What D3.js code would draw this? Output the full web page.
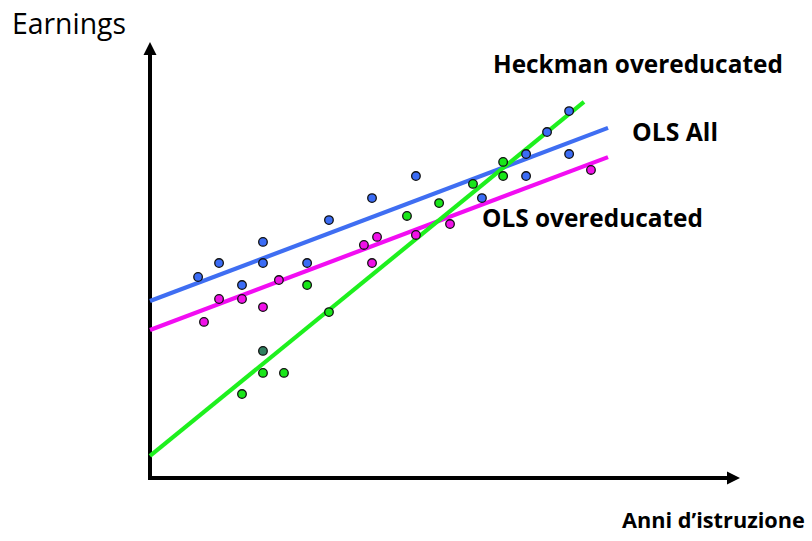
<!DOCTYPE html>
<html>
<head>
<meta charset="utf-8">
<script src="https://cdn.jsdelivr.net/npm/d3@7"></script>
<style>
  html, body { margin: 0; padding: 0; background: #fff; }
  svg { display: block; }
  text { font-family: "Open Sans", "Liberation Sans", sans-serif; fill: #000; }
</style>
</head>
<body>
<svg id="chart" width="812" height="541"></svg>
<script>
// ---- Data (years of schooling vs earnings, arbitrary units) ----
const blueX = [2.2, 3.16, 4.21, 5.17, 5.17, 7.19, 8.19, 10.16, 12.17, 15.19, 17.21, 17.21, 18.17, 19.18, 19.18];
const blueY = [9.22, 9.86, 8.85, 10.83, 9.86, 9.86, 11.83, 12.84, 13.85, 12.84, 13.85, 14.86, 15.87, 16.83, 14.86];

const magentaX = [2.47, 3.16, 4.21, 5.17, 5.9, 9.79, 10.16, 10.39, 12.17, 13.73, 20.18];
const magentaY = [7.16, 8.21, 8.21, 7.84, 9.08, 10.69, 9.86, 11.06, 11.15, 11.65, 14.13];

const greenX = [4.21, 5.17, 6.13, 7.19, 8.19, 11.76, 13.23, 14.78, 16.16, 16.16];
const greenY = [3.85, 4.82, 4.82, 8.85, 7.61, 12.02, 12.61, 13.49, 14.5, 13.85];

const darkGreenX = [5.17];
const darkGreenY = [5.83];

// fitted lines: [x0, y0, x1, y1]
const lineOLSAll = [0, 8.12, 20.96, 16.06];
const lineOLSOver = [0, 6.79, 20.96, 14.72];
const lineHeckman = [0, 1.01, 19.86, 17.25];

const lineLabels = ["Heckman overeducated", "OLS All", "OLS overeducated"];
const yTitle = "Earnings";
const xTitle = "Anni d\u2019istruzione";

// ---- Scales ----
const svg = d3.select("#chart");
const x = d3.scaleLinear().domain([0, 27]).range([150, 740]);
const y = d3.scaleLinear().domain([0, 20]).range([478, 42]);

// ---- Axes (no ticks) ----
const gx = svg.append("g").attr("transform", `translate(0,${y(0)})`)
  .call(d3.axisBottom(x).tickValues([]).tickSizeOuter(0));
gx.select(".domain").attr("stroke", "#000").attr("stroke-width", 4)
  .attr("d", `M${x(0) - 2},0H${x(27) - 12}`);
const gy = svg.append("g").attr("transform", `translate(${x(0)},0)`)
  .call(d3.axisLeft(y).tickValues([]).tickSizeOuter(0));
gy.select(".domain").attr("stroke", "#000").attr("stroke-width", 4)
  .attr("d", `M0,${y(0) + 2}V${y(20) + 12}`);

// arrowheads
svg.append("path")
  .attr("d", `M${x(27)},${y(0)} L${x(27) - 13},${y(0) - 6.5} L${x(27) - 13},${y(0) + 6.5} Z`)
  .attr("fill", "#000");
svg.append("path")
  .attr("d", `M${x(0)},${y(20)} L${x(0) - 6.5},${y(20) + 13} L${x(0) + 6.5},${y(20) + 13} Z`)
  .attr("fill", "#000");

// ---- Fitted lines ----
const lines = [
  { d: lineOLSAll, color: "#3f6ef2" },
  { d: lineOLSOver, color: "#f20df2" },
  { d: lineHeckman, color: "#1ef01e" }
];
svg.append("g").selectAll("line").data(lines).join("line")
  .attr("x1", l => x(l.d[0])).attr("y1", l => y(l.d[1]))
  .attr("x2", l => x(l.d[2])).attr("y2", l => y(l.d[3]))
  .attr("stroke", l => l.color).attr("stroke-width", 4.2);

// ---- Points ----
function pts(xs, ys, fill) {
  svg.append("g").selectAll("circle").data(xs.map((v, i) => [v, ys[i]])).join("circle")
    .attr("cx", d => x(d[0])).attr("cy", d => y(d[1])).attr("r", 4.3)
    .attr("fill", fill).attr("stroke", "#111").attr("stroke-width", 1.3);
}
pts(blueX, blueY, "#3b6cf5");
pts(magentaX, magentaY, "#f011e8");
pts(greenX, greenY, "#19e619");
pts(darkGreenX, darkGreenY, "#2f7f5f");

// ---- Text ----
function label(txt, px, py, w, bold) {
  const t = svg.append("text").attr("x", px).attr("y", py)
    .attr("font-size", 20).attr("font-weight", bold ? 700 : 400).text(txt);
  const len = t.node().getComputedTextLength();
  t.attr("font-size", 20 * w / len);
  return t;
}
label(yTitle, 12, 34, 114, false);
label(lineLabels[0], 493, 73, 290, true);
label(lineLabels[1], 632, 141, 86, true);
label(lineLabels[2], 482, 227, 221, true);
label(xTitle, 622, 528, 183, true);
</script>
</body>
</html>
